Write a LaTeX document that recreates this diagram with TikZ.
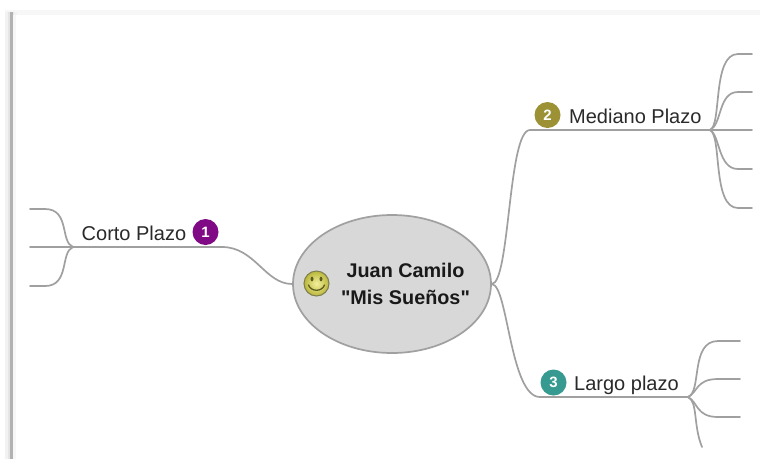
\documentclass[tikz,border=0pt]{standalone}
\usepackage{fontspec}
\setmainfont{Liberation Sans}[Ligatures=TeXOff]
\usetikzlibrary{shapes.geometric}
\definecolor{linegray}{HTML}{A0A0A0}
\definecolor{ovalfill}{HTML}{D8D8D8}
\definecolor{txt}{HTML}{2A2A2A}
\definecolor{bpurple}{HTML}{800A86}
\definecolor{bolive}{HTML}{9C9235}
\definecolor{bteal}{HTML}{379A90}
\definecolor{smileyf}{HTML}{E8E44A}
\definecolor{smileye}{HTML}{5E5D20}
\tikzset{
  conn/.style={draw=linegray,line width=1.7pt,line cap=round},
  topiclabel/.style={font=\fontsize{20}{22}\selectfont,text=txt,inner sep=0pt,anchor=base west},
  badge/.style={circle,minimum size=26pt,inner sep=0pt,text=white,font=\bfseries\fontsize{15}{16}\selectfont},
}
\begin{document}
\begin{tikzpicture}[x=1pt,y=-1pt]
\useasboundingbox (0,0) rectangle (760,459);
% page edge
\fill[white] (0,0) rectangle (760,459);
\fill[black!3] (5,10) rectangle (760,15);
\fill[black!5] (5,12) rectangle (17,459);
\fill[black!10] (8,12) rectangle (14,459);
\fill[black!30] (10,12) rectangle (12.5,459);
\fill[white] (12.5,15) rectangle (760,459);
\fill[black!3] (12.5,15) rectangle (15.5,459);

% junction points and free ends
\coordinate (hubM) at (710,130);
\coordinate (hubL) at (688,397);
\coordinate (hubC) at (73,247);
\coordinate (m1) at (752,54);
\coordinate (m2) at (752,92);
\coordinate (m3) at (752,130);
\coordinate (m4) at (752,169);
\coordinate (m5) at (752,208);
\coordinate (l1) at (740,341);
\coordinate (l2) at (740,379);
\coordinate (l3) at (740,417);
\coordinate (l4) at (702,447);
\coordinate (c1) at (30,209);
\coordinate (c2) at (30,247);
\coordinate (c3) at (30,286);

% root
\node[ellipse,draw=linegray,fill=ovalfill,line width=1.7pt,minimum width=198pt,minimum height=138pt,inner sep=0pt] (root) at (392,284) {};
\node[font=\bfseries\fontsize{19.8}{27}\selectfont,text=black!90,align=center,inner sep=0pt] (title) at (405.5,284) {Juan Camilo\\"Mis Sueños"};

% smiley
\node[circle,draw=smileye!80,line width=1pt,inner color=smileyf!55!white,outer color=smileyf!80!black,minimum size=25pt,inner sep=0pt] (smile) at (316.5,283.5) {};
\fill[smileye] (312,279) ellipse (1.5pt and 2.4pt) (321,279) ellipse (1.5pt and 2.4pt);
\draw[smileye,line width=1.3pt,line cap=round] (308.5,285) .. controls (311,292) and (322,292) .. (324.5,285);

% main branches
\draw[conn] (root.east) .. controls (510,283) and (508,130) .. (530,130) -- (hubM);
\draw[conn] (root.east) .. controls (508,285) and (510,397) .. (540,397) -- (hubL);
\draw[conn] (root.west) .. controls (265,284) and (255,247) .. (222,247) -- (hubC);

% sub branches
\draw[conn] (hubM) .. controls (722,125) and (712,54) .. (738,54) -- (m1);
\draw[conn] (hubM) .. controls (722,125) and (718,92) .. (738,92) -- (m2);
\draw[conn] (hubM) -- (m3);
\draw[conn] (hubM) .. controls (720,135) and (718,169) .. (738,169) -- (m4);
\draw[conn] (hubM) .. controls (722,135) and (712,208) .. (738,208) -- (m5);
\draw[conn] (hubL) .. controls (702,392) and (690,341) .. (718,341) -- (l1);
\draw[conn] (hubL) .. controls (698,392) and (696,379) .. (718,379) -- (l2);
\draw[conn] (hubL) .. controls (698,402) and (696,417) .. (718,417) -- (l3);
\draw[conn] (hubL) .. controls (698,402) and (693,425) .. (l4);
\draw[conn] (hubC) .. controls (60,242) and (70,209) .. (45,209) -- (c1);
\draw[conn] (hubC) -- (c2);
\draw[conn] (hubC) .. controls (60,252) and (70,286) .. (45,286) -- (c3);

% labels and badges
\node[topiclabel] (corto) at (81.5,240) {Corto Plazo};
\node[badge,fill=bpurple] (b1) at (205.5,232) {1};
\node[topiclabel] (mediano) at (569,123) {Mediano Plazo};
\node[badge,fill=bolive] (b2) at (547.5,115) {2};
\node[topiclabel] (largo) at (574,390) {Largo plazo};
\node[badge,fill=bteal] (b3) at (553.5,382.5) {3};
\end{tikzpicture}
\end{document}
